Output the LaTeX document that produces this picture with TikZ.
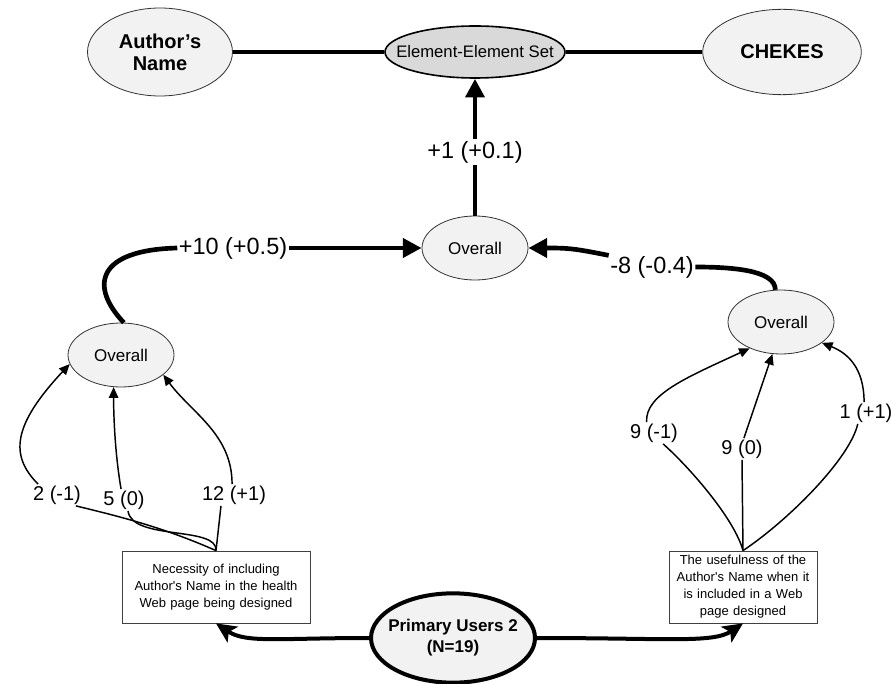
\documentclass[tikz,border=0pt]{standalone}
\usepackage{fontspec}
\setmainfont{Liberation Sans}
\usetikzlibrary{arrows.meta,shapes.geometric}

\definecolor{ovalGray}{HTML}{F2F2F2}
\definecolor{setGray}{HTML}{D9D9D9}

\tikzset{
  oval/.style={ellipse, draw=black!80, line width=0.6pt, fill=ovalGray, inner sep=0pt},
  overall/.style={oval, minimum width=79.5pt, minimum height=48pt,
    label={[font=\fontsize{12.75}{15}\selectfont]center:Overall}},
  nameText/.style={font=\bfseries\fontsize{15}{16.5}\selectfont, align=center},
  infoBox/.style={draw=black!75, line width=0.6pt, fill=white, align=center, inner sep=3pt,
    minimum height=54pt, font=\fontsize{9.75}{12.75}\selectfont},
  bigLbl/.style={inner sep=1pt, font=\fontsize{17.6}{20}\selectfont},
  smallLbl/.style={inner sep=1pt, font=\fontsize{15}{18}\selectfont},
  joinLine/.style={line width=2.6pt},
  heavy/.style={line width=3.5pt},
  heavyArrow/.style={heavy, -{Triangle[length=14pt,width=14pt]}},
  thin/.style={line width=1.1pt},
  thinArrow/.style={thin, -{Triangle[length=8pt,width=7pt]}},
  userArrow/.style={line width=3pt, -{Stealth[length=15pt,width=14pt,inset=3.5pt]}},
}

\begin{document}
\begin{tikzpicture}[x=0.75pt, y=-0.75pt]
\useasboundingbox (0,0) rectangle (892,684);

% top row
\node[oval, minimum width=108.75pt, minimum height=66pt, label={[nameText]center:Author’s\\Name}] (AN) at (160,52) {};
\node[oval, fill=setGray, line width=1.2pt, draw=black, minimum width=135pt, minimum height=39pt,
      label={[font=\fontsize{12.5}{15}\selectfont]center:Element-Element Set}] (EES) at (475,52) {};
\node[oval, minimum width=119pt, minimum height=64pt, label={[nameText]center:CHEKES}] (CH) at (782,52) {};

% overall ovals
\node[overall] (ovT) at (475,248) {};
\node[overall] (ovL) at (121,355) {};
\node[overall] (ovR) at (781,322) {};

% question boxes and user group
\node[infoBox, text width=135pt] (boxL) at (216,587) {Necessity of including\\Author\textquotesingle s Name in the health\\Web page being designed};
\node[infoBox, text width=105pt] (boxR) at (743,587) {The usefulness of the\\Author\textquotesingle s Name when it\\is included in a Web\\page designed};
\node[oval, draw=black, line width=3pt, minimum width=123pt, minimum height=67pt,
      label={[font=\bfseries\fontsize{12.75}{15.75}\selectfont, align=center]center:Primary Users 2\\(N=19)}] (PU) at (453,638) {};

% score labels
\node[bigLbl] (ovT2EES) at (475,152) {+1 (+0.1)};
\node[bigLbl] (ovL2ovT) at (233,248) {+10 (+0.5)};
\node[bigLbl] (ovR2ovT) at (652,267) {-8 (-0.4)};
\node[smallLbl] (neg1L) at (57,495) {2 (-1)};
\node[smallLbl] (zeroL) at (124,500) {5 (0)};
\node[smallLbl] (pos1L) at (234,495) {12 (+1)};
\node[smallLbl] (neg1R) at (654,433) {9 (-1)};
\node[smallLbl] (zeroR) at (742,449) {9 (0)};
\node[smallLbl] (pos1R) at (866,413) {1 (+1)};

\draw[joinLine] (AN.east) -- (EES.west);
\draw[joinLine] (EES.east) -- (CH.west);

\draw[heavy] (ovT.north) -- (ovT2EES.south);
\draw[heavyArrow] (ovT2EES.north) -- (EES.south);
\draw[heavy] (ovL.85) .. controls +(-35,-37) and +(-80,2) .. (ovL2ovT.west);
\draw[heavyArrow] (ovL2ovT.east) -- (ovT.west);
\draw[heavy] (ovR.100) .. controls +(0,-20) and +(35,0) .. (ovR2ovT.east);
\draw[heavyArrow] (ovR2ovT.165) .. controls +(-35,-7) and +(40,0) .. (ovT.east);

% left answers
\draw[thinArrow] (neg1L.150) .. controls +(-28,-28) and +(-58,62) .. (ovL.190);
\draw[thinArrow] (zeroL.105) .. controls +(-6,-35) and +(0,30) .. (ovL.257);
\draw[thinArrow] (pos1L.100) .. controls +(0,-50) and +(28,38) .. (ovL.335);
\draw[thin] (neg1L.-30) .. controls +(50,12) and +(-50,-22) .. (boxL.north);
\draw[thin] (zeroL.-70) .. controls +(4,30) and +(2,-25) .. (boxL.north);
\draw[thin] (pos1L.-140) -- (boxL.north);

% right answers
\draw[thinArrow] (neg1R.124) .. controls +(-2,-28) and +(-60,28) .. (ovR.220);
\draw[thinArrow] (zeroR.80) -- (ovR.255);
\draw[thinArrow] (pos1R.100) .. controls +(0,-35) and +(25,10) .. (ovR.333);
\draw[thin] (neg1R.-50) .. controls +(30,27) and +(-8,-30) .. (boxR.north);
\draw[thin] (zeroR.south) -- (boxR.north);
\draw[thin] (pos1R.-127) .. controls +(-8,35) and +(45,-30) .. (boxR.north);

\draw[userArrow] (PU.west) .. controls +(-90,0) and +(30,20) .. (boxL.south);
\draw[userArrow] (PU.east) .. controls +(130,0) and +(-30,20) .. (boxR.south);
\end{tikzpicture}
\end{document}
